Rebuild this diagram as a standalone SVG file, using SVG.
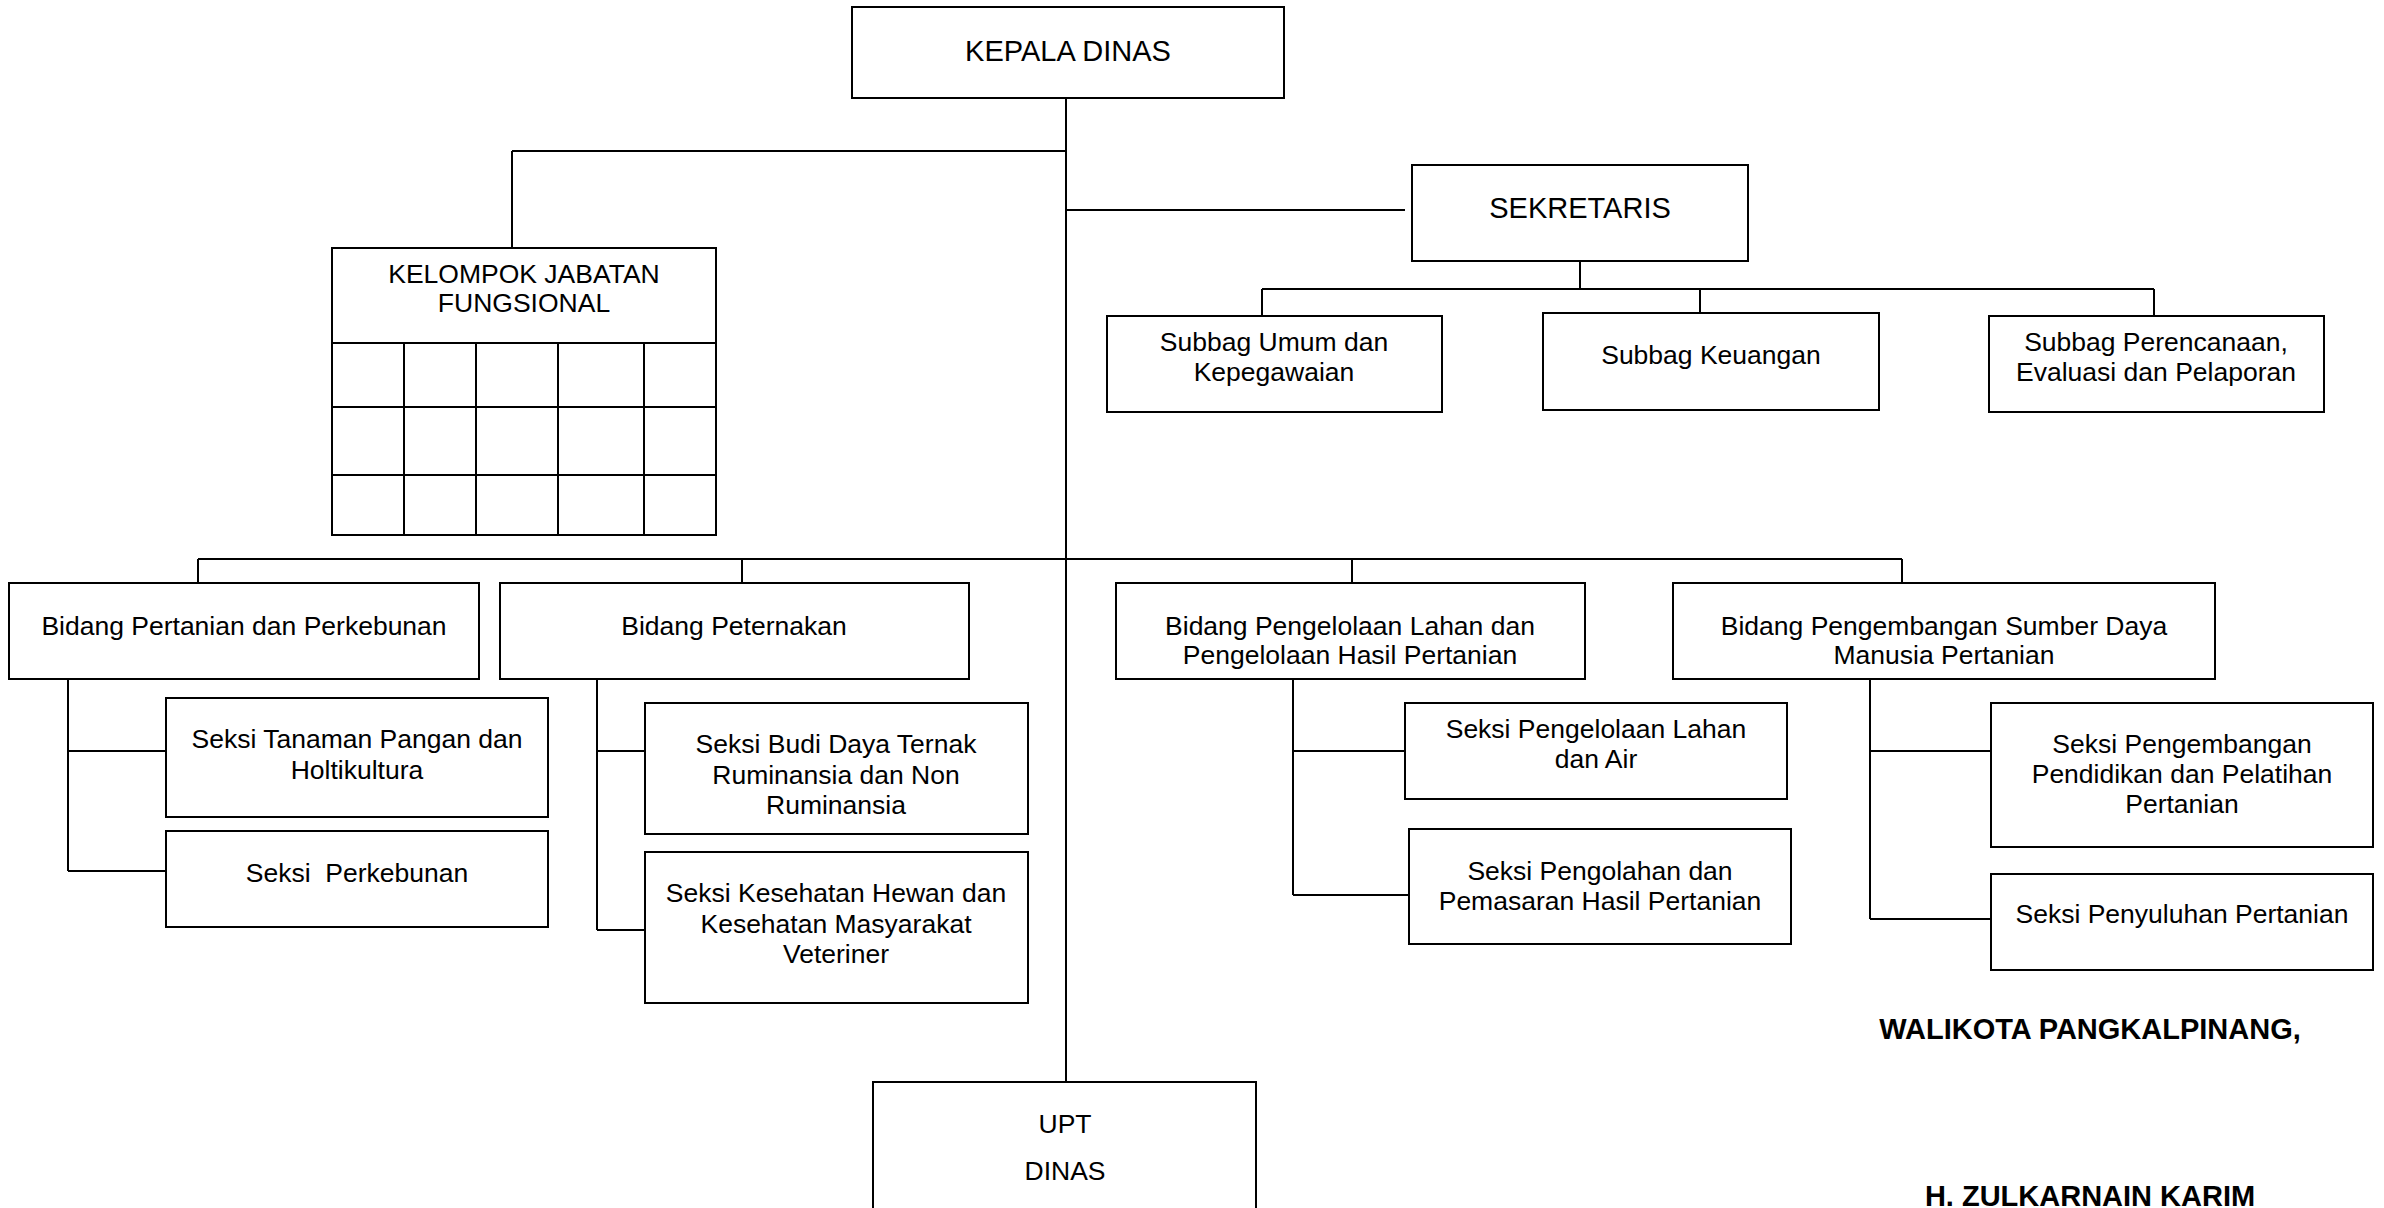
<svg xmlns="http://www.w3.org/2000/svg" width="2384" height="1208" viewBox="0 0 2384 1208">
<style>
.box{fill:#fff;stroke:#000;stroke-width:2}
.ln{fill:none;stroke:#000;stroke-width:2}
text{font-family:"Liberation Sans",Arial,sans-serif;font-size:26.5px;fill:#000;text-anchor:middle}
.big{font-size:29px}
.sig{font-size:29px;font-weight:bold}
</style>
<rect width="2384" height="1208" fill="#fff"/>
<g id="connectors" class="ln">
<path d="M1066 98V1082"/>
<path d="M512 151H1066M512 151V248"/>
<path d="M1066 210H1405"/>
<path d="M1580 261V289M1262 289H2154M1262 289V316M1700 289V313M2154 289V316"/>
<path d="M198 559H1902M198 559V583M742 559V583M1352 559V583M1902 559V583"/>
<path d="M68 679V871M68 751H166M68 871H166"/>
<path d="M597 679V930M597 751H645M597 930H645"/>
<path d="M1293 679V895M1293 751H1405M1293 895H1409"/>
<path d="M1870 679V919M1870 751H1991M1870 919H1991"/>
</g>
<g id="kepala-dinas"><rect class="box" x="852" y="7" width="432" height="91"/><text class="big" x="1068" y="61">KEPALA DINAS</text></g>
<g id="sekretaris"><rect class="box" x="1412" y="165" width="336" height="96"/><text class="big" x="1580" y="218">SEKRETARIS</text></g>
<g id="kelompok-jabatan-fungsional">
<rect class="box" x="332" y="248" width="384" height="287"/>
<path class="ln" d="M332 343H716M332 407H716M332 475H716M404 343V535M476 343V535M558 343V535M644 343V535"/>
<text x="524" y="283">KELOMPOK JABATAN</text><text x="524" y="312">FUNGSIONAL</text>
</g>
<g id="subbag-umum"><rect class="box" x="1107" y="316" width="335" height="96"/><text x="1274" y="351">Subbag Umum dan</text><text x="1274" y="381">Kepegawaian</text></g>
<g id="subbag-keuangan"><rect class="box" x="1543" y="313" width="336" height="97"/><text x="1711" y="364">Subbag Keuangan</text></g>
<g id="subbag-perencanaan"><rect class="box" x="1989" y="316" width="335" height="96"/><text x="2156" y="351">Subbag Perencanaan,</text><text x="2156" y="381">Evaluasi dan Pelaporan</text></g>
<g id="bidang-pertanian"><rect class="box" x="9" y="583" width="470" height="96"/><text x="244" y="635">Bidang Pertanian dan Perkebunan</text></g>
<g id="bidang-peternakan"><rect class="box" x="500" y="583" width="469" height="96"/><text x="734" y="635">Bidang Peternakan</text></g>
<g id="bidang-pengelolaan"><rect class="box" x="1116" y="583" width="469" height="96"/><text x="1350" y="635">Bidang Pengelolaan Lahan dan</text><text x="1350" y="664">Pengelolaan Hasil Pertanian</text></g>
<g id="bidang-pengembangan"><rect class="box" x="1673" y="583" width="542" height="96"/><text x="1944" y="635">Bidang Pengembangan Sumber Daya</text><text x="1944" y="664">Manusia Pertanian</text></g>
<g id="seksi-tanaman"><rect class="box" x="166" y="698" width="382" height="119"/><text x="357" y="748">Seksi Tanaman Pangan dan</text><text x="357" y="779">Holtikultura</text></g>
<g id="seksi-perkebunan"><rect class="box" x="166" y="831" width="382" height="96"/><text x="357" y="882" xml:space="preserve">Seksi  Perkebunan</text></g>
<g id="seksi-budidaya"><rect class="box" x="645" y="703" width="383" height="131"/><text x="836" y="753">Seksi Budi Daya Ternak</text><text x="836" y="784">Ruminansia dan Non</text><text x="836" y="814">Ruminansia</text></g>
<g id="seksi-kesehatan"><rect class="box" x="645" y="852" width="383" height="151"/><text x="836" y="902">Seksi Kesehatan Hewan dan</text><text x="836" y="933">Kesehatan Masyarakat</text><text x="836" y="963">Veteriner</text></g>
<g id="seksi-lahan"><rect class="box" x="1405" y="703" width="382" height="96"/><text x="1596" y="738">Seksi Pengelolaan Lahan</text><text x="1596" y="768">dan Air</text></g>
<g id="seksi-pengolahan"><rect class="box" x="1409" y="829" width="382" height="115"/><text x="1600" y="880">Seksi Pengolahan dan</text><text x="1600" y="910">Pemasaran Hasil Pertanian</text></g>
<g id="seksi-pengembangan"><rect class="box" x="1991" y="703" width="382" height="144"/><text x="2182" y="753">Seksi Pengembangan</text><text x="2182" y="783">Pendidikan dan Pelatihan</text><text x="2182" y="813">Pertanian</text></g>
<g id="seksi-penyuluhan"><rect class="box" x="1991" y="874" width="382" height="96"/><text x="2182" y="923">Seksi Penyuluhan Pertanian</text></g>
<g id="upt-dinas"><rect class="box" x="873" y="1082" width="383" height="140"/><text x="1065" y="1133">UPT</text><text x="1065" y="1180">DINAS</text></g>
<g id="signature"><text class="sig" x="2090" y="1039">WALIKOTA PANGKALPINANG,</text><text class="sig" x="2090" y="1206">H. ZULKARNAIN KARIM</text></g>
</svg>
